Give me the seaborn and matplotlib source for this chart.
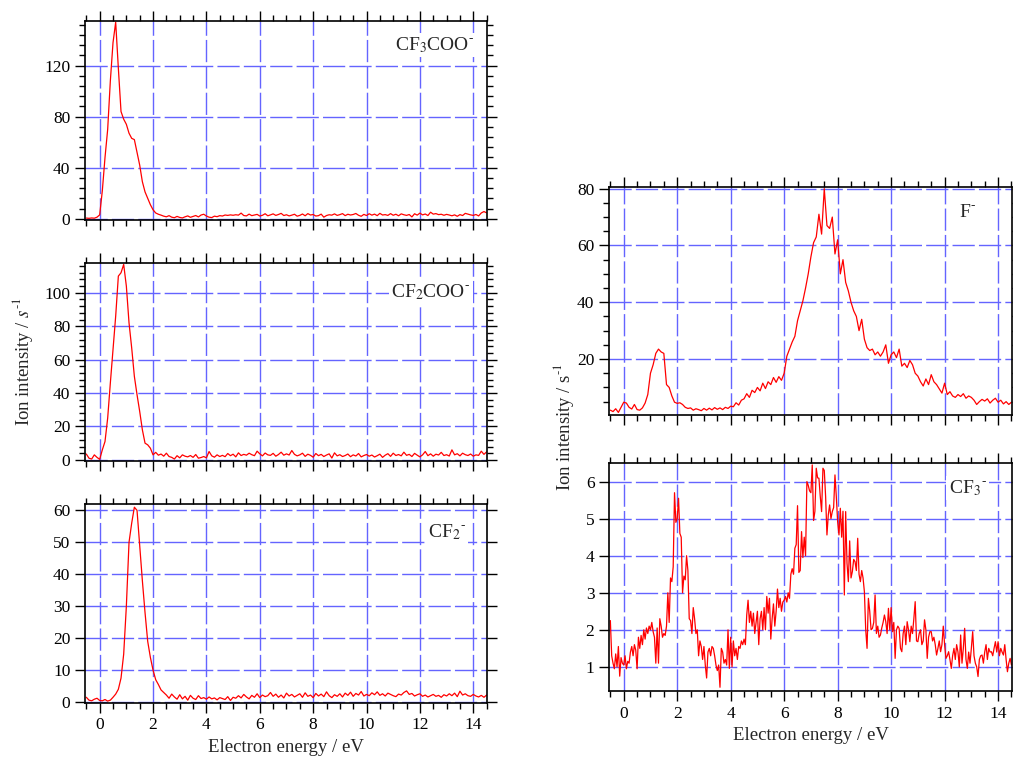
import numpy as np
import pandas as pd
import matplotlib
matplotlib.use("Agg")
import matplotlib.pyplot as plt
from matplotlib.ticker import MultipleLocator
import seaborn as sns

# Ion yield curves (0.1 eV steps from -0.5 to 14.5 eV, CF3- in 0.05 eV steps)
cf3coo = [
    0.5, 0.3, 0.6, 0.4, 1.2, 3.0, 22, 48, 70, 108,
    138, 154, 118, 84, 78, 74, 67, 63, 62, 52,
    42, 29, 21, 16, 11, 7, 4.5, 3.5, 2.8, 2.0,
    1.5, 2.4, 1.2, 0.8, 1.8, 1.0, 0.6, 1.5, 2.2, 1.1,
    1.8, 2.5, 1.4, 2.9, 3.5, 2.1, 1.2, 0.9, 2.0, 1.6,
    2.4, 2.1, 2.9, 2.6, 3.0, 2.7, 3.1, 2.8, 4.4, 2.5,
    2.2, 3.6, 2.4, 2.9, 3.4, 2.1, 2.7, 3.9, 2.3, 3.0,
    3.8, 2.6, 3.3, 4.2, 2.5, 3.1, 2.2, 2.8, 3.5, 2.0,
    2.6, 3.7, 2.3, 4.0, 2.9, 3.3, 2.1, 2.4, 3.6, 1.2,
    2.5, 3.1, 2.8, 3.8, 2.6, 3.2, 4.0, 2.4, 3.5, 2.9,
    3.3, 4.1, 2.7, 1.9, 3.4, 2.5, 3.9, 2.8, 3.6, 2.4,
    4.2, 2.9, 3.2, 2.6, 4.0, 2.7, 3.5, 2.3, 3.8, 3.1,
    2.6, 3.3, 1.4, 3.9, 2.8, 4.4, 3.0, 3.7, 2.5, 5.1,
    3.6, 4.0, 3.2, 3.5, 2.7, 3.4, 2.9, 2.3, 3.0, 1.9,
    3.2, 2.5, 4.2, 3.6, 3.0, 2.6, 3.3, 2.2, 4.5, 5.6,
    4.6,
]

cf2coo = [
    3.5, 1.0, 0.5, 3.0, 1.5, 0.3, 6, 11, 25, 46,
    66, 86, 110, 112, 117, 104, 82, 67, 50, 39,
    29, 18, 10, 9, 7, 3.0, 4.5, 2.8, 3.5, 2.2,
    4.0, 2.0, 1.5, 0.5, 2.5, 1.2, 3.0, 2.2, 1.8, 2.6,
    1.5, 3.2, 1.0, 1.4, 2.0, 1.2, 5.0, 2.4, 1.6, 3.0,
    2.0, 2.7, 1.9, 3.8, 2.5, 3.4, 1.8, 4.2, 2.6, 3.3,
    2.8, 4.0, 3.1, 2.5, 5.2, 3.6, 2.4, 4.1, 3.0, 2.7,
    3.9, 2.2, 3.2, 4.6, 2.8, 3.6, 2.9, 5.6, 3.3, 2.4,
    3.0, 4.0, 2.1, 3.4, 2.7, 1.6, 3.8, 2.5, 3.3, 2.0,
    2.9, 3.6, 1.1, 4.2, 2.4, 3.1, 2.0, 2.6, 3.5, 1.9,
    3.0, 2.3, 3.8, 1.8, 2.6, 3.2, 2.2, 2.9, 1.7, 2.5,
    3.4, 1.5, 2.8, 3.7, 2.1, 4.0, 2.6, 3.2, 2.4, 4.6,
    2.7, 3.3, 2.0, 3.9, 2.8, 1.8, 3.0, 5.0, 2.5, 3.6,
    2.2, 3.4, 2.9, 4.5, 2.6, 3.1, 2.3, 6.0, 3.0, 3.7,
    2.4, 4.0, 3.1, 2.6, 3.5, 2.2, 3.0, 2.7, 5.2, 3.3,
    4.8,
]

cf2 = [
    1.5, 0.6, 0.4, 0.9, 1.2, 0.5, 0.4, 0.8, 0.3, 0.6,
    1.5, 2.5, 4.0, 7.5, 15, 30, 50, 56, 61, 60,
    49, 38, 28, 19, 14, 10, 7, 5.5, 3.8, 3.0,
    2.2, 1.2, 2.5, 1.6, 0.9, 2.3, 1.0, 1.8, 0.6, 2.1,
    1.2, 0.8, 2.0, 1.1, 1.4, 0.9, 1.6, 1.0, 1.3, 0.7,
    1.4, 1.1, 0.8, 1.7, 0.5, 1.5, 1.2, 2.0, 1.3, 2.4,
    1.6, 1.0, 2.1, 1.5, 2.6, 1.4, 2.2, 1.7, 2.0, 3.0,
    1.8, 2.5, 1.5, 2.2, 1.3, 2.8, 1.9, 2.4, 1.6, 2.1,
    2.6, 1.5, 2.9, 1.8, 2.2, 1.4, 2.7, 1.9, 2.5, 1.7,
    3.2, 2.0, 1.4, 2.3, 1.8, 2.6, 1.6, 2.8, 2.1, 3.1,
    1.8, 2.7, 2.2, 3.3, 1.9, 2.4, 2.0, 2.9, 2.3, 3.2,
    2.1, 2.6, 1.9, 2.8, 2.4, 2.0, 1.7, 2.5, 2.2, 3.0,
    3.5, 2.4, 2.7, 1.9, 2.3, 2.6, 1.8, 2.2, 1.6, 2.0,
    2.4, 1.8, 2.1, 1.5, 2.3, 1.9, 2.6, 2.0, 2.8, 1.7,
    3.4, 2.2, 2.6, 2.0, 1.8, 2.4, 1.9, 1.6, 2.1, 1.5,
    2.2,
]

f_ion = [
    2.0, 1.5, 2.5, 1.2, 3.0, 4.8, 4.5, 3.0, 2.4, 4.0,
    2.2, 2.0, 2.8, 4.5, 7.5, 15, 18, 22, 23.5, 22.5,
    22, 11, 10, 7, 4.8, 4.4, 4.6, 4.0, 3.0, 2.6,
    2.8, 2.0, 2.5, 2.2, 1.8, 2.6, 2.0, 2.7, 2.1, 2.9,
    2.3, 2.8, 2.2, 3.0, 2.6, 3.4, 3.2, 4.6, 3.8, 5.5,
    6.0, 7.8, 6.5, 9.0, 8.2, 10.0, 8.8, 11.5, 9.6, 12.0,
    11.0, 13.5, 11.8, 13.8, 12.5, 15.0, 21.0, 23.5, 26.0, 28.0,
    33.5, 37.0, 40.5, 45.0, 50.0, 56.0, 61.0, 63.0, 71.0, 64.0,
    80.0, 67.0, 66.0, 70.0, 57.0, 62.0, 50.0, 55.0, 47.0, 44.0,
    40.0, 37.0, 35.0, 30.0, 34.0, 27.0, 24.0, 23.0, 23.5, 21.5,
    22.5, 21.0, 22.5, 25.0, 18.5, 21.5, 22.5, 20.5, 23.5, 17.5,
    18.5, 17.0, 19.5, 18.0, 15.0, 14.0, 12.0, 10.5, 13.0, 11.0,
    14.5, 12.0, 11.0, 9.5, 8.0, 11.5, 7.5, 8.5, 7.0, 6.5,
    7.5, 6.8, 7.8, 6.2, 7.0, 6.5, 5.5, 4.0, 5.0, 5.8,
    5.2, 6.0, 4.5, 5.5, 6.2, 4.8, 5.5, 4.2, 5.0, 4.0,
    4.8,
]

cf3 = [
    2.25, 1.3, 1.1, 0.95, 1.35, 1.0, 1.55, 0.75, 1.25, 1.1,
    1.05, 1.3, 0.95, 1.15, 1.1, 1.4, 1.55, 1.3, 1.6, 1.45,
    0.95, 1.8, 1.5, 1.85, 1.6, 2.0, 1.75, 2.05, 1.9, 2.1,
    2.0, 2.2, 1.95, 1.8, 1.1, 2.05, 1.1, 2.3, 2.1, 1.8,
    1.9, 1.85, 2.1, 3.0, 2.2, 3.4, 3.3, 3.7, 5.7, 4.9,
    5.0, 5.55, 4.6, 4.5, 3.0, 3.45, 3.35, 4.0, 3.6, 2.3,
    2.25, 1.9, 2.6, 2.3, 1.9, 2.0, 1.3, 1.7, 1.55, 1.2,
    1.55, 1.05, 0.7, 1.4, 1.5, 1.3, 1.55, 1.5, 1.3, 1.05,
    0.9, 1.05, 0.45, 1.5, 1.4, 1.1, 1.2, 1.05, 2.0, 0.96,
    1.8, 1.0, 1.7, 1.3, 1.5, 1.2, 1.55, 1.5, 1.7, 1.6,
    1.75, 1.6, 2.4, 2.8, 2.2, 2.5, 2.1, 2.45, 1.9, 2.2,
    2.5, 1.6, 2.3, 2.5, 2.0, 2.6, 2.0, 2.9, 2.45, 2.85,
    1.75, 2.3, 2.7, 2.1, 2.5, 3.1, 2.6, 2.85, 2.5, 2.75,
    2.8, 2.9, 2.75, 3.0, 2.85, 3.5, 3.65, 3.5, 4.2, 4.3,
    5.35, 3.55, 3.6, 4.65, 3.95, 4.5, 4.0, 6.0, 5.9, 5.75,
    5.7, 6.45, 4.95, 5.2, 6.36, 6.1, 6.09, 5.6, 5.19, 6.36,
    6.3, 5.6, 4.56, 5.1, 5.37, 5.0, 5.19, 5.3, 6.18, 5.6,
    4.92, 4.56, 5.28, 4.5, 5.2, 2.94, 5.19, 3.8, 3.3, 4.4,
    3.4, 3.57, 3.9, 3.84, 3.6, 4.47, 3.5, 3.3, 3.6, 3.4,
    3.03, 2.0, 1.5, 2.85, 2.5, 2.0, 2.04, 2.2, 2.94, 1.9,
    2.1, 1.8, 1.86, 2.05, 2.2, 2.4, 2.22, 1.9, 2.58, 2.0,
    2.6, 1.95, 2.2, 1.23, 2.0, 2.1, 2.04, 1.5, 1.41, 1.9,
    2.1, 1.6, 2.22, 2.0, 1.68, 2.1, 1.9, 2.3, 2.76, 1.7,
    1.68, 1.9, 2.0, 1.6, 1.7, 2.27, 2.0, 1.23, 1.8, 1.95,
    1.95, 1.7, 1.8, 1.6, 1.32, 1.5, 1.7, 1.41, 1.6, 2.1,
    1.6, 1.23, 1.3, 1.41, 1.2, 0.96, 1.3, 1.5, 1.2, 1.6,
    1.4, 1.0, 1.86, 1.1, 1.5, 2.04, 1.2, 0.96, 1.4, 1.1,
    1.5, 1.95, 1.3, 1.1, 1.0, 0.74, 1.2, 1.3, 1.32, 1.1,
    1.4, 1.6, 1.2, 1.5, 1.4, 1.41, 1.3, 1.5, 1.68, 1.4,
    1.68, 1.3, 1.5, 1.4, 1.32, 1.6, 1.2, 0.87, 1.1, 1.23,
    1.05,
]

labels = ["CF$_3$COO$^{\\text{-}}$", "CF$_2$COO$^{\\text{-}}$", "CF$_2$$^{\\text{-}}$",
          "F$^{\\text{-}}$", "CF$_3$$^{\\text{-}}$"]

sns.set_style("ticks")
plt.rcParams["font.family"] = ["Liberation Serif", "DejaVu Serif"]
plt.rcParams["mathtext.fontset"] = "stix"

GRID = "#6464ff"


def energy(vals):
    return np.linspace(-0.5, 14.5, len(vals))


def style_axis(ax, ylim, ymaj, ymin, xlabels):
    ax.set_xlim(-0.55, 14.52)
    ax.set_ylim(*ylim)
    ax.xaxis.set_major_locator(MultipleLocator(2))
    ax.xaxis.set_minor_locator(MultipleLocator(0.5))
    ax.yaxis.set_major_locator(MultipleLocator(ymaj))
    if ymin:
        ax.yaxis.set_minor_locator(MultipleLocator(ymin))
    ax.grid(True, which="major", color=GRID, linewidth=1.0, linestyle=(0, (16, 3)))
    ax.set_axisbelow(True)
    ax.tick_params(which="both", direction="out", top=True, right=True,
                   labelsize=12.5, width=1.0, colors="black")
    ax.tick_params(which="major", length=7)
    ax.tick_params(which="minor", length=4)
    for sp in ax.spines.values():
        sp.set_linewidth(1.2)
        sp.set_color("black")
    if not xlabels:
        ax.tick_params(labelbottom=False)
    ax.set_xlabel("")
    ax.set_ylabel("")


fig = plt.figure(figsize=(10.13, 7.62), dpi=100)

panels = [
    ([0.0839, 0.7113, 0.397, 0.2612], cf3coo, (-1, 155), 40, 8, False, labels[0], (0.87, 0.88)),
    ([0.0839, 0.3954, 0.397, 0.2598], cf2coo, (-0.5, 118), 20, 4, False, labels[1], (0.86, 0.85)),
    ([0.0839, 0.0778, 0.397, 0.2608], cf2, (-0.2, 62), 10, None, True, labels[2], (0.9, 0.86)),
    ([0.6012, 0.4554, 0.3978, 0.2996], f_ion, (0.3, 80.7), 20, 5, False, labels[3], (0.89, 0.885)),
    ([0.6012, 0.0932, 0.3978, 0.2996], cf3, (0.35, 6.51), 1, None, True, labels[4], (0.89, 0.89)),
]

for rect, vals, ylim, ymaj, ymin, xl, lab, pos in panels:
    ax = fig.add_axes(rect)
    df = pd.DataFrame({"energy": energy(vals), "intensity": vals})
    sns.lineplot(data=df, x="energy", y="intensity", ax=ax, color="red",
                 linewidth=0.9, estimator=None)
    style_axis(ax, ylim, ymaj, ymin, xl)
    ax.text(pos[0], pos[1], lab, transform=ax.transAxes, ha="center", va="center",
            fontsize=14, bbox=dict(facecolor="white", edgecolor="none", pad=1.5))
    if xl:
        ax.set_xlabel("Electron energy / eV", fontsize=13.5, labelpad=4)

fig.text(0.022, 0.525, "Ion intensity / $s^{\\text{-1}}$", rotation=90, ha="center",
         va="center", fontsize=13.5)
fig.text(0.556, 0.44, "Ion intensity / s$^{\\text{-1}}$", rotation=90, ha="center",
         va="center", fontsize=13.5)

fig.savefig("out.png", dpi=100)
